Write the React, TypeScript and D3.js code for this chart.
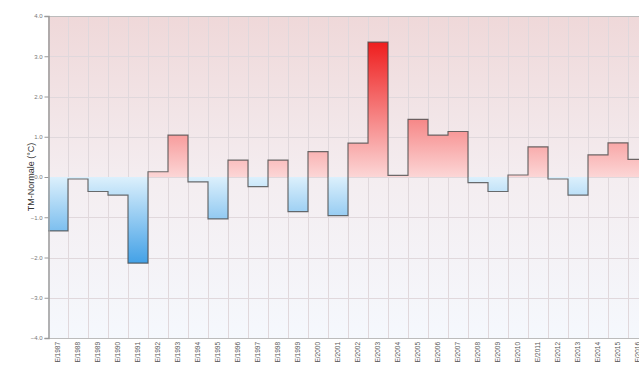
import React, { useEffect, useRef } from "react";
import * as d3 from "d3";

// summers 1987..2016, deviation from normal (°C)
const years = [
  "1987", "1988", "1989", "1990", "1991", "1992", "1993", "1994", "1995", "1996",
  "1997", "1998", "1999", "2000", "2001", "2002", "2003", "2004", "2005", "2006",
  "2007", "2008", "2009", "2010", "2011", "2012", "2013", "2014", "2015", "2016",
];
const categories = years.map((y) => `E/${y}`);
const anomalies = [
  -1.34, -0.05, -0.36, -0.45, -2.14, 0.13, 1.04, -0.12, -1.04, 0.42,
  -0.24, 0.42, -0.86, 0.63, -0.96, 0.84, 3.35, 0.04, 1.43, 1.04,
  1.13, -0.14, -0.36, 0.05, 0.75, -0.05, -0.45, 0.55, 0.85, 0.44,
];
const yTicks = [4, 3, 2, 1, 0, -1, -2, -3, -4];
const yTitle = "TM-Normale (°C)";

interface Row {
  cat: string;
  value: number;
}

const W = 639;
const H = 367;

const AnomalyChart: React.FC = () => {
  const svgRef = useRef<SVGSVGElement | null>(null);

  useEffect(() => {
    const rows: Row[] = categories.map((c, i) => ({ cat: c, value: anomalies[i] }));

    const svg = d3.select(svgRef.current);
    svg.selectAll("*").remove();

    const left = 48;
    const top = 16;
    const bottom = 338;
    const right = 648; // plot runs past the window edge

    const x = d3.scaleBand<string>().domain(categories).range([left, right]).padding(0);
    const y = d3.scaleLinear().domain([-4, 4]).range([bottom, top]);
    const bw = x.bandwidth();

    const defs = svg.append("defs");

    // plot background
    const bg = defs
      .append("linearGradient")
      .attr("id", "bg")
      .attr("gradientUnits", "userSpaceOnUse")
      .attr("x1", 0).attr("x2", 0)
      .attr("y1", y(4)).attr("y2", y(-4));
    bg.append("stop").attr("offset", "0%").attr("stop-color", "#efd8d9");
    bg.append("stop").attr("offset", "50%").attr("stop-color", "#f4edf0");
    bg.append("stop").attr("offset", "100%").attr("stop-color", "#f5f8fd");

    const pos = defs
      .append("linearGradient")
      .attr("id", "pos")
      .attr("gradientUnits", "userSpaceOnUse")
      .attr("x1", 0).attr("x2", 0)
      .attr("y1", y(0)).attr("y2", y(3.4));
    pos.append("stop").attr("offset", "0%").attr("stop-color", "#fcd6d6");
    pos.append("stop").attr("offset", "100%").attr("stop-color", "#ee1b1b");

    const neg = defs
      .append("linearGradient")
      .attr("id", "neg")
      .attr("gradientUnits", "userSpaceOnUse")
      .attr("x1", 0).attr("x2", 0)
      .attr("y1", y(0)).attr("y2", y(-2.2));
    neg.append("stop").attr("offset", "0%").attr("stop-color", "#dcf0fc");
    neg.append("stop").attr("offset", "100%").attr("stop-color", "#3f9fe6");

    svg
      .append("rect")
      .attr("x", left)
      .attr("y", top)
      .attr("width", right - left)
      .attr("height", bottom - top)
      .attr("fill", "url(#bg)");

    // grid
    const grid = svg.append("g").attr("stroke", "#e0d8dc").attr("stroke-width", 1);
    grid
      .selectAll("line.h")
      .data(yTicks)
      .enter()
      .append("line")
      .attr("x1", left)
      .attr("x2", right)
      .attr("y1", (d) => Math.round(y(d)) + 0.5)
      .attr("y2", (d) => Math.round(y(d)) + 0.5);
    grid
      .selectAll("line.v")
      .data(categories.slice(1))
      .enter()
      .append("line")
      .attr("x1", (d) => x(d)! + 0.5)
      .attr("x2", (d) => x(d)! + 0.5)
      .attr("y1", top)
      .attr("y2", bottom);

    // bars
    svg
      .append("g")
      .selectAll("rect")
      .data(rows)
      .enter()
      .append("rect")
      .attr("x", (d) => x(d.cat)!)
      .attr("width", bw)
      .attr("y", (d) => y(Math.max(0, d.value)))
      .attr("height", (d) => Math.abs(y(d.value) - y(0)))
      .attr("fill", (d) => (d.value >= 0 ? "url(#pos)" : "url(#neg)"));

    // step outline
    const stepPts: [number, number][] = rows.map((d) => [x(d.cat)!, y(d.value)]);
    stepPts.push([x(categories[categories.length - 1])! + bw, y(rows[rows.length - 1].value)]);
    const step = d3.line().curve(d3.curveStepAfter);
    svg
      .append("path")
      .attr("d", step(stepPts)!)
      .attr("fill", "none")
      .attr("stroke", "#4a4a4a")
      .attr("stroke-opacity", 0.8)
      .attr("stroke-width", 1.2);

    // frame
    svg
      .append("line")
      .attr("x1", left).attr("x2", right)
      .attr("y1", top + 0.5).attr("y2", top + 0.5)
      .attr("stroke", "#bcbcbc");
    svg
      .append("line")
      .attr("x1", left).attr("x2", right)
      .attr("y1", bottom + 0.5).attr("y2", bottom + 0.5)
      .attr("stroke", "#bcbcbc");

    // y axis
    const yAxis = svg
      .append("g")
      .attr("transform", `translate(${left + 0.5},0)`)
      .call(
        d3
          .axisLeft(y)
          .tickValues(yTicks)
          .tickSize(4)
          .tickPadding(2)
          .tickFormat((d) => d3.format(".1f")(d as number))
      );
    yAxis.select(".domain").attr("stroke", "#9a9a9a").attr("stroke-width", 1.5);
    yAxis.selectAll(".tick line").attr("stroke", "#9a9a9a");
    yAxis
      .selectAll(".tick text")
      .attr("fill", "#777")
      .style("font-size", "6px")
      .style("font-family", "'Liberation Sans', Arial, sans-serif");

    // x labels
    svg
      .append("g")
      .selectAll("text")
      .data(categories)
      .enter()
      .append("text")
      .attr(
        "transform",
        (d) => `translate(${x(d)! + bw / 2 + 2},${bottom + 4}) rotate(-90)`
      )
      .attr("text-anchor", "end")
      .attr("fill", "#555")
      .style("font-size", "6.5px")
      .style("font-family", "'Liberation Sans', Arial, sans-serif")
      .text((d) => d);

    // y title
    svg
      .append("text")
      .attr("transform", `translate(34,${y(0)}) rotate(-90)`)
      .attr("text-anchor", "middle")
      .attr("fill", "#333")
      .style("font-size", "9px")
      .style("font-family", "'Liberation Sans', Arial, sans-serif")
      .text(yTitle);
  }, []);

  return (
    <svg
      ref={svgRef}
      width={W}
      height={H}
      style={{ position: "absolute", left: 0, top: 0, background: "#fff" }}
    />
  );
};

export default function App() {
  return <AnomalyChart />;
}
